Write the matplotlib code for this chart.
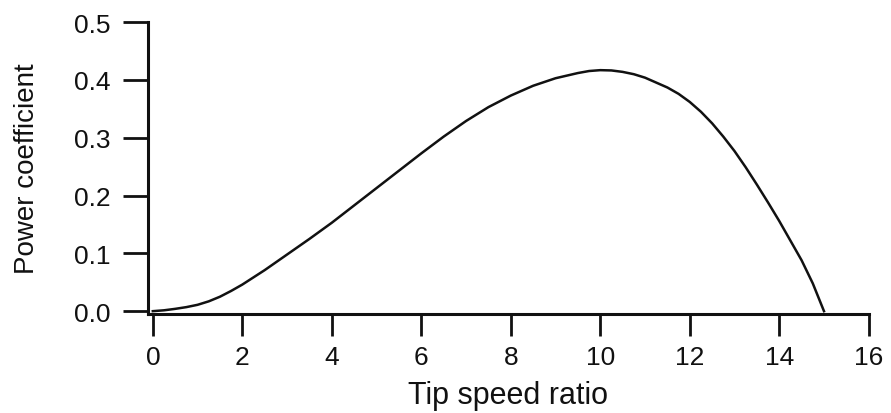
import matplotlib
matplotlib.use("Agg")
import matplotlib.pyplot as plt

# valores
tsr = [0.0, 0.25, 0.5, 0.75, 1.0, 1.25, 1.5, 1.75, 2.0, 2.5, 3.0, 3.5, 4.0,
       4.5, 5.0, 5.5, 6.0, 6.5, 7.0, 7.5, 8.0, 8.5, 9.0, 9.5, 9.75, 10.0,
       10.25, 10.5, 10.75, 11.0, 11.5, 11.75, 12.0, 12.25, 12.5, 12.75, 13.0,
       13.25, 13.5, 13.75, 14.0, 14.25, 14.5, 14.75, 15.0]
cp = [0.0, 0.0015, 0.004, 0.007, 0.011, 0.017, 0.025, 0.035, 0.046, 0.071,
      0.098, 0.125, 0.153, 0.183, 0.213, 0.243, 0.273, 0.302, 0.329, 0.353,
      0.373, 0.390, 0.403, 0.412, 0.4155, 0.417, 0.4165, 0.414, 0.410, 0.404,
      0.387, 0.376, 0.362, 0.345, 0.325, 0.302, 0.277, 0.249, 0.219, 0.188,
      0.156, 0.122, 0.088, 0.048, 0.0]
xticks = [0, 2, 4, 6, 8, 10, 12, 14, 16]
yticks = [0.0, 0.1, 0.2, 0.3, 0.4, 0.5]
yticklabels = ["0.0", "0.1", "0.2", "0.3", "0.4", "0.5"]

plt.rcParams['font.family'] = ['Liberation Sans', 'DejaVu Sans']

fig = plt.figure(figsize=(8.91, 4.14), dpi=100)
ax = fig.add_axes([0.166, 0.239, 0.809, 0.705])

ax.plot(tsr, cp, color='#111111', linewidth=1.8)

ax.set_xlim(-0.11, 16)
ax.set_ylim(-0.005, 0.5)
ax.set_xticks(xticks)
ax.set_yticks(yticks)
ax.set_yticklabels(yticklabels)

for side in ['top', 'right']:
    ax.spines[side].set_visible(False)
for side in ['left', 'bottom']:
    ax.spines[side].set_linewidth(2.2)
    ax.spines[side].set_color('#111111')
ax.spines['left'].set_bounds(-0.005, 0.5)

ax.tick_params(axis='x', direction='out', length=16, width=2.0, pad=6,
               labelsize=19, colors='#111111')
ax.tick_params(axis='y', direction='out', length=18, width=2.0, pad=9,
               labelsize=19, colors='#111111')

ax.set_xlabel('Tip speed ratio', fontsize=22, color='#111111')
ax.set_ylabel('Power coefficient', fontsize=20, color='#111111')
ax.xaxis.set_label_coords(0.5, -0.277)
ax.yaxis.set_label_coords(-0.168, 0.5)
ax.xaxis.label.set_va('center')
ax.yaxis.label.set_va('center')

fig.savefig('out.png', dpi=100)
